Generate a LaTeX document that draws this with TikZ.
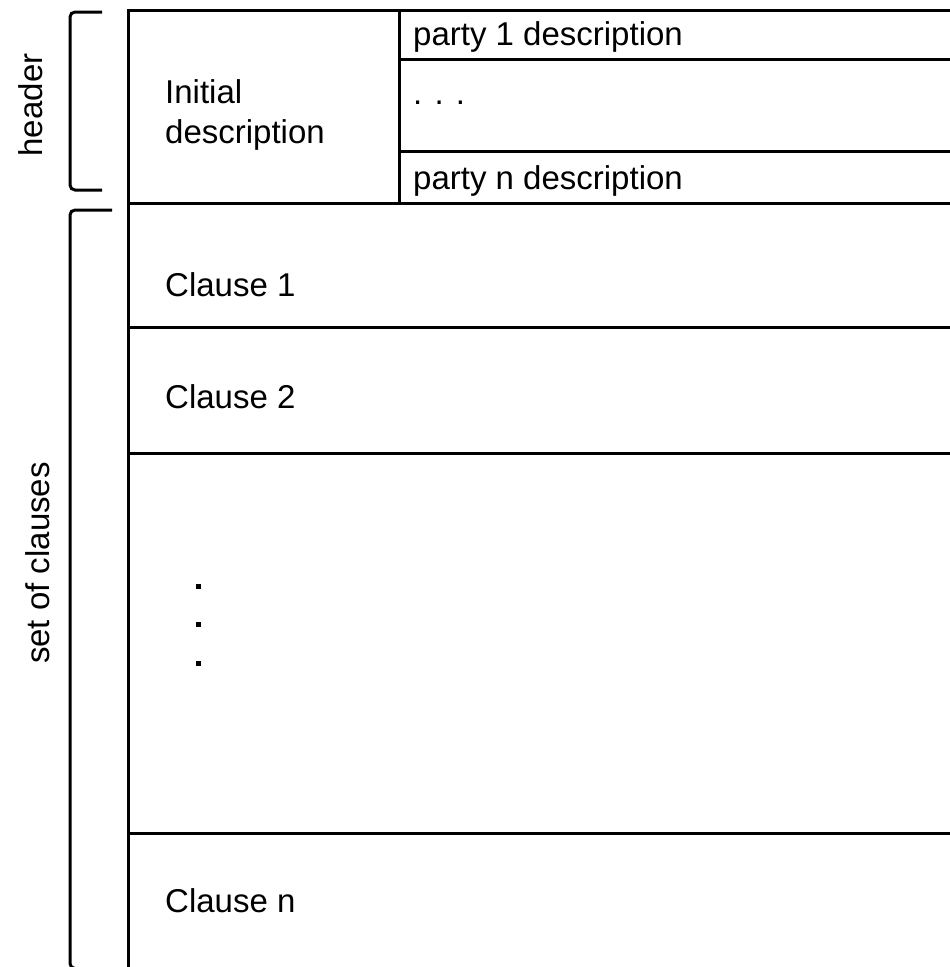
\documentclass[tikz,border=0pt]{standalone}
\usepackage{fontspec}
\setmainfont{Liberation Sans}
\begin{document}
\begin{tikzpicture}[x=1pt,y=-1pt,
  rule/.style={line width=3pt, line cap=rect},
  brace/.style={line width=3pt, rounded corners=5pt},
  lbl/.style={anchor=base west, inner sep=0pt, font=\fontsize{33}{40}\selectfont},
  side/.style={inner sep=0pt, rotate=90, font=\fontsize{33}{40}\selectfont},
  vdot/.style={fill=black, minimum size=5pt, inner sep=0pt}]
\useasboundingbox (0,0) rectangle (950,967);
\clip (0,0) rectangle (950,967);
% table
\draw[rule] (960,10) -- (128,10) -- (128,975);
\draw[rule] (399,10) -- (399,203);
\draw[rule] (399,59) -- (960,59);
\draw[rule] (399,151) -- (960,151);
\draw[rule] (128,203) -- (960,203);
\draw[rule] (128,327) -- (960,327);
\draw[rule] (128,453) -- (960,453);
\draw[rule] (128,833) -- (960,833);
% brackets
\draw[brace] (102,12) -- (70,12) -- (70,190) -- (102,190);
\draw[brace] (112,210) -- (70,210) -- (70,968.5) -- (100,968.5);
% texts
\node[lbl] (init1) at (165,103) {Initial};
\node[lbl] (init2) at (165,143) {description};
\node[lbl] (p1) at (413,45) {party 1 description};
\node[lbl] (pdots) at (413,104) {. . .};
\node[lbl] (pn) at (413,189) {party n description};
\node[lbl] (c1) at (165,296) {Clause 1};
\node[lbl] (c2) at (165,408) {Clause 2};
\node[lbl] (cn) at (165,912) {Clause n};
\node[vdot] (d1) at (198,586) {};
\node[vdot] (d2) at (198,624) {};
\node[vdot] (d3) at (198,663) {};
\node[side] (hdr) at (31,105) {header};
\node[side] (soc) at (38,563) {set of clauses};
\end{tikzpicture}
\end{document}
